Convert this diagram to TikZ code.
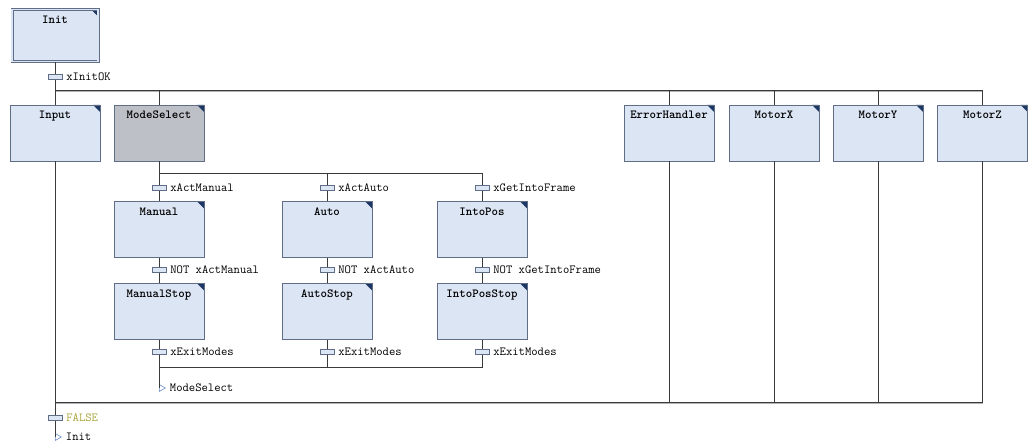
\documentclass[tikz,border=0pt]{standalone}
\usepackage{fontspec}
\usetikzlibrary{shapes.geometric,positioning}
\definecolor{stepfill}{HTML}{DCE5F4}
\definecolor{stepgray}{HTML}{BDC1C7}
\definecolor{stepline}{HTML}{5F6E86}
\definecolor{stepmark}{HTML}{1C3763}
\definecolor{wirecol}{HTML}{3A3A3A}
\definecolor{falsecol}{HTML}{A7A53A}
\definecolor{jumpcol}{HTML}{6A8CC4}

\begin{document}
\begin{tikzpicture}[x=1pt, y=-1pt,
  every node/.style={font=\ttfamily\fontsize{12.3}{13}\selectfont},
  sfcstep/.style={draw=stepline, fill=stepfill, line width=0.8pt, minimum width=90pt,
    inner ysep=6pt, text height=8pt, text depth=36pt,
    font=\ttfamily\bfseries\fontsize{12.3}{13}\selectfont,
    path picture={\fill[stepmark] ([xshift=-7pt]path picture bounding box.north east)
      -- (path picture bounding box.north east)
      -- ([yshift=-7pt]path picture bounding box.north east) -- cycle;}},
  initstep/.style={sfcstep, minimum width=86pt, text depth=32pt,
    double=stepfill, double distance=1.4pt},
  trans/.style={draw=stepline, fill=stepfill, line width=0.6pt, inner sep=0pt,
    minimum width=14pt, minimum height=4.5pt},
  cond/.style={label={[label distance=0.5pt]right:#1}},
  jump/.style={isosceles triangle, isosceles triangle apex angle=60, draw=jumpcol,
    fill=white, line width=0.6pt, inner sep=0pt, minimum size=6pt, anchor=west},
  wire/.style={draw=wirecol, line width=0.8pt},
  par/.style={draw=wirecol, line width=0.9pt, double=gray!60, double distance=0.8pt}]
\path[use as bounding box] (0,0) rectangle (1034,443);
\node[initstep] (Init) at (55,35.5) {Init};
\node[trans, cond=xInitOK] (tInit) at (55,77) {};
\node[sfcstep] (Input) at (55,133) {Input};
\node[sfcstep, fill=stepgray] (ModeSelect) at (159,133) {ModeSelect};
\node[sfcstep] (ErrorHandler) at (669,133) {ErrorHandler};
\node[sfcstep] (MotorX) at (774,133) {MotorX};
\node[sfcstep] (MotorY) at (878,133) {MotorY};
\node[sfcstep] (MotorZ) at (982.5,133) {MotorZ};
\coordinate (parTopL) at (55,91);
\coordinate (parBotL) at (55,403);
\coordinate (altL) at (159,173);
\coordinate (altR) at (482,173);
\node[trans, cond=xActManual] (tManual) at (159,188) {};
\node[trans, cond=xActAuto] (tAuto) at (327,188) {};
\node[trans, cond=xGetIntoFrame] (tIntoPos) at (482,188) {};
\node[sfcstep] (Manual) at (159,229.5) {Manual};
\node[sfcstep] (Auto) at (327,229.5) {Auto};
\node[sfcstep] (IntoPos) at (482,229.5) {IntoPos};
\node[trans, cond=NOT xActManual] (tManualOff) at (159,270) {};
\node[trans, cond=NOT xActAuto] (tAutoOff) at (327,270) {};
\node[trans, cond=NOT xGetIntoFrame] (tIntoPosOff) at (482,270) {};
\node[sfcstep] (ManualStop) at (159,311.5) {ManualStop};
\node[sfcstep] (AutoStop) at (327,311.5) {AutoStop};
\node[sfcstep] (IntoPosStop) at (482,311.5) {IntoPosStop};
\node[trans, cond=xExitModes] (tManualExit) at (159,352) {};
\node[trans, cond=xExitModes] (tAutoExit) at (327,352) {};
\node[trans, cond=xExitModes] (tIntoPosExit) at (482,352) {};
\coordinate (joinL) at (159,367);
\coordinate (joinR) at (482,367);
\node[jump, cond=ModeSelect] (jModeSelect) at (159,388) {};
\node[trans, label={[label distance=0.5pt, text=falsecol]right:FALSE}] (tFalse) at (55,418) {};
\node[jump, cond=Init] (jInit) at (55,437) {};
\draw[par] (parTopL) -- (MotorZ |- parTopL);
\draw[par] (parBotL) -- (MotorZ |- parBotL);
\draw[wire] (Init) -- (tInit) -- (Input) -- (tFalse) -- (jInit.west);
\foreach \s in {ModeSelect,ErrorHandler,MotorX,MotorY,MotorZ}
  \draw[wire] (\s |- parTopL) -- (\s);
\foreach \s in {ErrorHandler,MotorX,MotorY,MotorZ}
  \draw[wire] (\s) -- (\s |- parBotL);
\draw[wire] (altL) -- (altR);
\draw[wire] (ModeSelect) -- (tManual) -- (Manual) -- (tManualOff) -- (ManualStop)
  -- (tManualExit) -- (jModeSelect.west);
\draw[wire] (altL -| tAuto) -- (tAuto) -- (Auto) -- (tAutoOff) -- (AutoStop)
  -- (tAutoExit) -- (tAutoExit |- joinL);
\draw[wire] (altR) -- (tIntoPos) -- (IntoPos) -- (tIntoPosOff) -- (IntoPosStop)
  -- (tIntoPosExit) -- (joinR) -- (joinL);
\end{tikzpicture}
\end{document}
